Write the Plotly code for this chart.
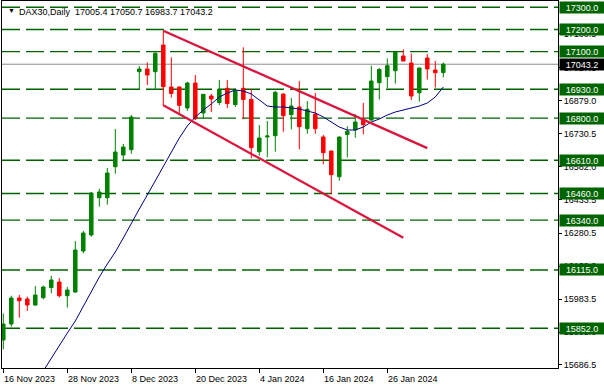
import plotly.graph_objects as go

# ---------------- data ----------------
dates = [
    "2023-11-16", "2023-11-17", "2023-11-20", "2023-11-21", "2023-11-22", "2023-11-23", "2023-11-24",
    "2023-11-27", "2023-11-28", "2023-11-29", "2023-11-30", "2023-12-01", "2023-12-04", "2023-12-05",
    "2023-12-06", "2023-12-07", "2023-12-08", "2023-12-11", "2023-12-12", "2023-12-13", "2023-12-14",
    "2023-12-15", "2023-12-18", "2023-12-19", "2023-12-20", "2023-12-21", "2023-12-22", "2023-12-27",
    "2023-12-28", "2023-12-29", "2024-01-02", "2024-01-03", "2024-01-04", "2024-01-05", "2024-01-08",
    "2024-01-09", "2024-01-10", "2024-01-11", "2024-01-12", "2024-01-15", "2024-01-16", "2024-01-17",
    "2024-01-18", "2024-01-19", "2024-01-22", "2024-01-23", "2024-01-24", "2024-01-25", "2024-01-26",
    "2024-01-29", "2024-01-30", "2024-01-31", "2024-02-01", "2024-02-02", "2024-02-05", "2024-02-06",
]
opens = [
    15799.2, 15871.3, 15988.6, 15984.1, 15957.0, 15990.0, 16036.0,
    16060.8, 15999.0, 16015.7, 16200.6, 16272.8, 16441.1, 16441.1,
    16580.9, 16633.7, 16657.6, 17009.5, 17021.6, 17009.5, 17129.9,
    16940.4, 16940.4, 16845.7, 16958.5, 16823.2, 16899.8, 16870.5,
    16934.6, 16861.5, 16934.6, 16884.1, 16648.6, 16714.9, 16720.8,
    16908.9, 16815.5, 16850.2, 16752.3, 16818.6, 16714.9, 16651.7,
    16535.8, 16726.2, 16746.5, 16790.2, 16791.6, 16959.8, 16986.9,
    17014.0, 17080.3, 17048.7, 16914.7, 17071.3, 17017.1, 17005.4,
]
highs = [
    15918.7, 15999.0, 16002.2, 15994.5, 16042.8, 16044.1, 16088.8,
    16078.8, 16038.2, 16245.7, 16290.9, 16466.8, 16481.7, 16575.1,
    16751.0, 16683.3, 16814.1, 17035.2, 17051.0, 17097.0, 17194.4,
    17074.4, 16942.7, 16964.4, 16994.6, 16908.9, 16908.9, 16972.0,
    16972.0, 16934.6, 17119.5, 16931.4, 16769.0, 16787.1, 16922.4,
    16911.1, 16890.8, 16967.5, 16877.3, 16913.4, 16723.9, 16653.0,
    16717.1, 16763.2, 16818.6, 16868.3, 17036.5, 17026.2, 17069.9,
    17099.7, 17110.5, 17091.6, 17027.5, 17089.3, 17057.7, 17050.7,
]
lows = [
    15757.2, 15859.2, 15899.8, 15930.0, 15952.5, 15982.8, 16009.8,
    15990.9, 15945.8, 16012.0, 16190.3, 16265.1, 16400.5, 16409.5,
    16549.3, 16605.3, 16639.6, 16926.9, 16949.5, 16926.9, 16854.7,
    16893.1, 16820.9, 16832.2, 16791.6, 16796.1, 16827.7, 16859.2,
    16845.7, 16850.2, 16796.1, 16618.8, 16630.5, 16623.3, 16648.6,
    16738.8, 16749.6, 16659.4, 16729.8, 16729.8, 16591.7, 16456.4,
    16517.8, 16622.4, 16711.7, 16727.1, 16788.4, 16884.1, 16935.9,
    16956.2, 17056.0, 16881.8, 16874.1, 16974.3, 16938.2, 16983.7,
]
closes = [
    15871.3, 15988.6, 15976.4, 15957.0, 16002.2, 16038.2, 16069.8,
    15999.0, 16024.7, 16205.1, 16281.8, 16462.3, 16466.8, 16552.5,
    16647.2, 16669.8, 16805.1, 17021.6, 16994.6, 17092.5, 16941.8,
    16911.1, 16857.9, 16958.5, 16797.4, 16907.5, 16886.3, 16930.1,
    16866.0, 16923.8, 16884.1, 16666.6, 16710.4, 16719.4, 16916.5,
    16811.0, 16854.7, 16761.4, 16839.8, 16752.3, 16644.1, 16544.8,
    16714.9, 16740.6, 16782.6, 16770.4, 16967.5, 17019.4, 17036.5,
    17097.0, 17057.7, 16899.8, 17026.2, 17021.6, 17004.9, 17043.2,
]
moving_average = [
    None, None, None, None, None, 15659.3, 15717.9,
    15776.6, 15830.8, 15884.8, 15952.5, 16020.2, 16083.3, 16142.0,
    16196.1, 16259.3, 16326.9, 16390.1, 16453.3, 16516.4, 16584.1,
    16647.2, 16710.4, 16764.5, 16805.1, 16836.7, 16863.8, 16895.3,
    16913.4, 16926.9, 16922.4, 16908.9, 16881.8, 16854.7, 16850.2,
    16850.2, 16845.7, 16841.2, 16832.2, 16823.2, 16805.1, 16782.6,
    16760.0, 16746.5, 16746.5, 16760.0, 16782.6, 16796.1, 16814.1,
    16827.7, 16836.7, 16845.7, 16854.7, 16868.3, 16895.3, 16940.4,
]
levels = [17300.0, 17200.0, 17100.0, 16930.0, 16800.0, 16610.0, 16460.0, 16340.0, 16115.0, 15852.0]
last_price = 17043.2
y_tick_values = [15686.5, 15835.0, 15983.5, 16132.0, 16280.5, 16433.5, 16582.0, 16730.5, 16879.0, 17027.5, 17180.5]
x_tick_dates = ["2023-11-16", "2023-11-28", "2023-12-08", "2023-12-20", "2024-01-04", "2024-01-16", "2024-01-26"]
x_tick_labels = ["16 Nov 2023", "28 Nov 2023", "8 Dec 2023", "20 Dec 2023", "4 Jan 2024", "16 Jan 2024", "26 Jan 2024"]
channel_upper_dates = ["2023-12-14", "2024-02-02"]
channel_upper_prices = [17194.4, 16664.7]
channel_lower_dates = ["2023-12-14", "2024-01-30"]
channel_lower_prices = [16857.9, 16260.6]
header_text = "DAX30,Daily  17005.4 17050.7 16983.7 17043.2"

# ---------------- styles ----------------
FONT = "Liberation Sans"
GREEN = "#008000"
LEVEL_GREEN = "#006400"
RED = "#FF0000"
CHANNEL = "#DC143C"

pos = {d: i for i, d in enumerate(dates)}
xi = list(range(len(dates)))

fig = go.Figure()
fig.add_trace(go.Candlestick(
    x=xi, open=opens, high=highs, low=lows, close=closes,
    increasing=dict(line=dict(color=GREEN, width=1), fillcolor=GREEN),
    decreasing=dict(line=dict(color=RED, width=1), fillcolor=RED),
    whiskerwidth=0, showlegend=False, hoverinfo="skip",
))
fig.add_trace(go.Scatter(
    x=xi, y=moving_average, mode="lines",
    line=dict(color="#000080", width=1), showlegend=False, hoverinfo="skip",
))
fig.add_trace(go.Scatter(
    x=[pos[d] for d in channel_upper_dates], y=channel_upper_prices, mode="lines",
    line=dict(color=CHANNEL, width=2.2), showlegend=False, hoverinfo="skip",
))
fig.add_trace(go.Scatter(
    x=[pos[d] for d in channel_lower_dates], y=channel_lower_prices, mode="lines",
    line=dict(color=CHANNEL, width=2.2), showlegend=False, hoverinfo="skip",
))

shapes = []
annotations = []
for lv in levels:
    shapes.append(dict(type="line", xref="paper", x0=0, x1=1, yref="y", y0=lv, y1=lv,
                       line=dict(color=LEVEL_GREEN, width=1.4, dash="18px,6px"), layer="below"))
    annotations.append(dict(xref="paper", x=1, xanchor="left", xshift=1, yref="y", y=lv,
                            yanchor="middle", text=f"{lv:.1f}", showarrow=False,
                            font=dict(family=FONT, size=9, color="white"),
                            bgcolor=LEVEL_GREEN, width=42, height=9, borderpad=1, align="center"))
shapes.append(dict(type="line", xref="paper", x0=0, x1=1, yref="y", y0=last_price, y1=last_price,
                   line=dict(color="#8C8C8C", width=1), layer="below"))
annotations.append(dict(xref="paper", x=1, xanchor="left", xshift=1, yref="y", y=last_price,
                        yanchor="middle", text=f"{last_price:.1f}", showarrow=False,
                        font=dict(family=FONT, size=9, color="white"),
                        bgcolor="black", width=42, height=9, borderpad=1, align="center"))

for d, lab in zip(x_tick_dates, x_tick_labels):
    annotations.append(dict(xref="x", x=pos[d], xanchor="left", xshift=-1,
                            yref="paper", y=0, yanchor="top", yshift=-4,
                            text=lab, showarrow=False,
                            font=dict(family=FONT, size=9, color="black")))

annotations.append(dict(xref="paper", x=0, xanchor="left", xshift=4, yref="paper", y=1,
                        yanchor="top", yshift=-4, text="▼", showarrow=False,
                        font=dict(family=FONT, size=7, color="black")))
annotations.append(dict(xref="paper", x=0, xanchor="left", xshift=15, yref="paper", y=1,
                        yanchor="top", yshift=-4, text=header_text, showarrow=False,
                        font=dict(family=FONT, size=9, color="black")))

fig.update_layout(
    width=604, height=389,
    margin=dict(l=2, r=46, t=1, b=21),
    paper_bgcolor="white", plot_bgcolor="white",
    boxgap=0.38,
    shapes=shapes, annotations=annotations,
    xaxis=dict(range=[-0.1625, 69.3375], showgrid=False, zeroline=False,
               showline=True, linecolor="black", linewidth=1, mirror=True,
               ticks="outside", ticklen=4, tickcolor="black",
               tickvals=[pos[d] for d in x_tick_dates], showticklabels=False,
               rangeslider=dict(visible=False), fixedrange=True),
    yaxis=dict(side="right", range=[15672.9, 17328.4], showgrid=False, zeroline=False,
               showline=True, linecolor="black", linewidth=1, mirror=True,
               ticks="outside", ticklen=3, tickcolor="black",
               tickvals=y_tick_values, ticktext=[f"{v:.1f}" for v in y_tick_values],
               tickfont=dict(family=FONT, size=9, color="black"), fixedrange=True),
)

fig.write_html("out.html", config={"displayModeBar": False},
               post_script="document.body.style.margin='0';document.body.style.padding='0';")
